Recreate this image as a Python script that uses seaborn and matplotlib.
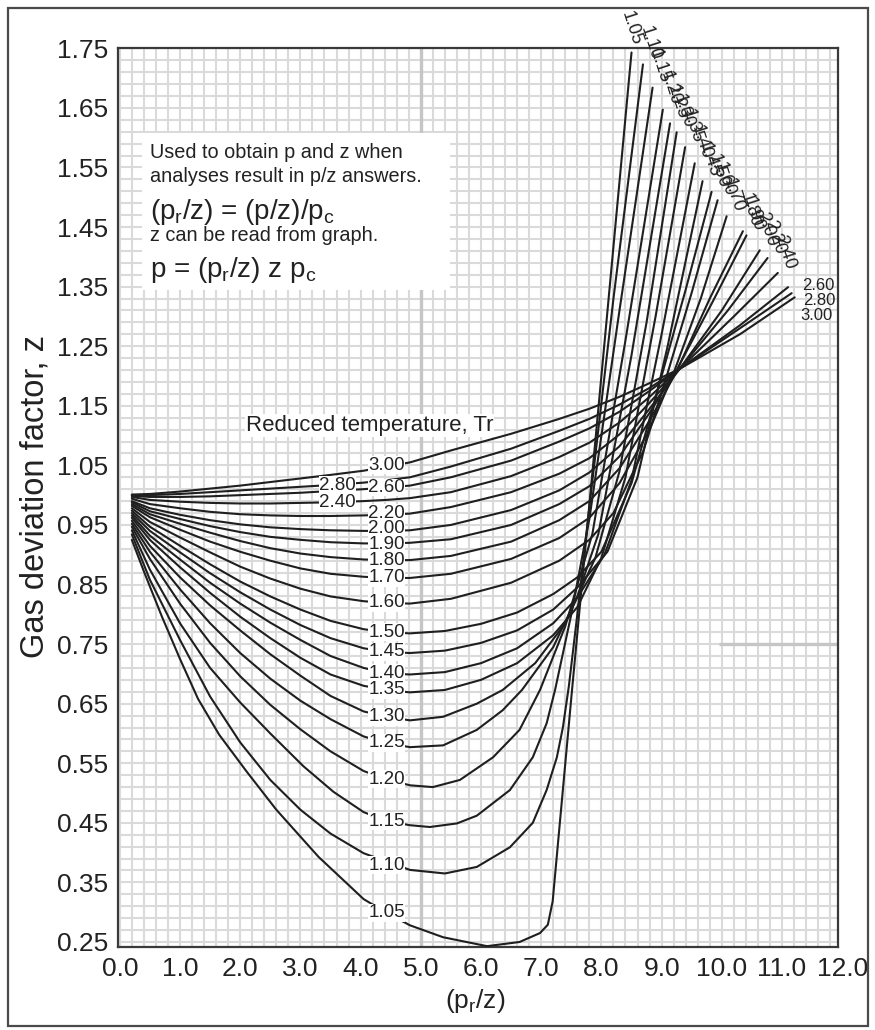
import numpy as np
import pandas as pd
import matplotlib
matplotlib.use("Agg")
import matplotlib.pyplot as plt
from matplotlib.patches import Rectangle
import seaborn as sns

# ---- reduced temperature curves: x = (pr/z), z = gas deviation factor ----
TR_105_X = [0.2, 0.4, 0.7, 1.0, 1.3, 1.65, 2.1, 2.6, 3.3, 4.05, 4.43, 4.82, 5.37, 6.1, 6.64, 6.98, 7.11, 7.19, 7.5, 8.0, 8.5]
TR_105_Z = [0.925, 0.872, 0.796, 0.725, 0.658, 0.598, 0.537, 0.472, 0.393, 0.322, 0.299, 0.278, 0.258, 0.243, 0.250, 0.265, 0.279, 0.318, 0.66, 1.20, 1.743]

TR_110_X = [0.2, 0.5, 1.0, 1.5, 2.0, 2.5, 3.0, 3.5, 4.05, 4.43, 4.82, 5.4, 5.93, 6.48, 6.86, 7.09, 7.26, 7.36, 7.46, 7.6, 7.8, 8.2, 8.69]
TR_110_Z = [0.934, 0.858, 0.757, 0.662, 0.585, 0.522, 0.472, 0.432, 0.399, 0.385, 0.371, 0.365, 0.376, 0.409, 0.450, 0.505, 0.560, 0.610, 0.680, 0.800, 0.980, 1.330, 1.723]

TR_115_X = [0.2, 0.5, 1.0, 1.5, 2.0, 2.5, 3.05, 3.55, 4.05, 4.43, 4.82, 5.15, 5.6, 5.93, 6.48, 6.86, 7.09, 7.23, 7.5, 7.8, 8.3, 8.85]
TR_115_Z = [0.941, 0.875, 0.785, 0.710, 0.652, 0.600, 0.545, 0.502, 0.468, 0.453, 0.446, 0.443, 0.449, 0.462, 0.505, 0.560, 0.617, 0.673, 0.800, 0.960, 1.310, 1.684]

TR_120_X = [0.2, 0.5, 1.0, 1.5, 2.0, 2.5, 3.0, 3.5, 4.05, 4.43, 4.82, 5.2, 5.65, 6.2, 6.64, 6.98, 7.4, 7.85, 8.4, 9.02]
TR_120_Z = [0.947, 0.893, 0.818, 0.752, 0.696, 0.648, 0.607, 0.570, 0.537, 0.523, 0.513, 0.510, 0.522, 0.560, 0.606, 0.673, 0.780, 0.935, 1.260, 1.647]

TR_125_X = [0.2, 0.5, 1.0, 1.5, 2.0, 2.5, 3.0, 3.5, 4.05, 4.43, 4.82, 5.37, 5.93, 6.36, 6.68, 7.2, 7.6, 7.95, 8.5, 9.14]
TR_125_Z = [0.952, 0.905, 0.842, 0.785, 0.735, 0.692, 0.655, 0.624, 0.595, 0.584, 0.577, 0.580, 0.606, 0.639, 0.673, 0.745, 0.830, 0.935, 1.235, 1.624]

TR_130_X = [0.2, 0.5, 1.0, 1.5, 2.0, 2.5, 3.0, 3.5, 4.05, 4.43, 4.82, 5.37, 5.93, 6.36, 6.9, 7.4, 7.9, 8.3, 8.75, 9.25]
TR_130_Z = [0.957, 0.915, 0.862, 0.815, 0.773, 0.733, 0.697, 0.663, 0.637, 0.628, 0.622, 0.628, 0.650, 0.673, 0.718, 0.785, 0.895, 1.040, 1.290, 1.609]

TR_135_X = [0.2, 0.5, 1.0, 1.5, 2.0, 2.5, 3.0, 3.5, 4.05, 4.43, 4.82, 5.4, 6.0, 6.6, 7.2, 7.6, 8.0, 8.4, 8.9, 9.39]
TR_135_Z = [0.962, 0.925, 0.879, 0.836, 0.796, 0.760, 0.727, 0.699, 0.680, 0.673, 0.669, 0.673, 0.690, 0.718, 0.765, 0.812, 0.895, 1.030, 1.300, 1.584]

TR_140_X = [0.2, 0.5, 1.0, 1.5, 2.0, 2.5, 3.0, 3.5, 4.05, 4.43, 4.82, 5.4, 6.0, 6.6, 7.2, 7.6, 8.05, 8.5, 9.0, 9.55]
TR_140_Z = [0.966, 0.932, 0.892, 0.853, 0.818, 0.786, 0.757, 0.730, 0.710, 0.701, 0.699, 0.703, 0.718, 0.743, 0.785, 0.828, 0.900, 1.025, 1.270, 1.557]

TR_145_X = [0.2, 0.5, 1.0, 1.5, 2.0, 2.5, 3.0, 3.5, 4.05, 4.43, 4.82, 5.4, 6.0, 6.6, 7.2, 7.6, 8.1, 8.6, 9.1, 9.68]
TR_145_Z = [0.970, 0.940, 0.904, 0.869, 0.837, 0.808, 0.782, 0.760, 0.743, 0.737, 0.735, 0.739, 0.752, 0.773, 0.808, 0.845, 0.905, 1.030, 1.250, 1.527]

TR_150_X = [0.2, 0.5, 1.0, 1.5, 2.0, 2.5, 3.0, 3.5, 4.05, 4.43, 4.82, 5.4, 6.0, 6.6, 7.2, 7.6, 8.0, 8.5, 9.0, 9.4, 9.83]
TR_150_Z = [0.974, 0.947, 0.915, 0.884, 0.855, 0.830, 0.808, 0.789, 0.775, 0.770, 0.768, 0.772, 0.784, 0.803, 0.834, 0.862, 0.905, 1.020, 1.200, 1.345, 1.509]

TR_160_X = [0.2, 0.5, 1.0, 1.5, 2.0, 2.5, 3.0, 3.5, 4.05, 4.43, 4.82, 5.5, 6.5, 7.3, 7.8, 8.2, 8.7, 9.1, 9.5, 9.93]
TR_160_Z = [0.978, 0.955, 0.929, 0.904, 0.880, 0.860, 0.843, 0.830, 0.822, 0.819, 0.818, 0.826, 0.853, 0.890, 0.925, 0.970, 1.075, 1.205, 1.340, 1.495]

TR_170_X = [0.2, 0.5, 1.0, 1.5, 2.0, 2.5, 3.0, 3.5, 4.05, 4.43, 4.82, 5.5, 6.5, 7.3, 7.8, 8.3, 8.8, 9.2, 9.65, 10.08]
TR_170_Z = [0.982, 0.963, 0.942, 0.922, 0.905, 0.890, 0.877, 0.868, 0.863, 0.861, 0.861, 0.868, 0.893, 0.928, 0.962, 1.020, 1.110, 1.205, 1.330, 1.468]

TR_180_X = [0.2, 0.5, 1.0, 1.5, 2.0, 2.5, 3.0, 3.5, 4.05, 4.43, 4.82, 5.5, 6.5, 7.3, 7.8, 8.3, 8.8, 9.25, 9.8, 10.35]
TR_180_Z = [0.985, 0.968, 0.952, 0.937, 0.923, 0.911, 0.902, 0.896, 0.892, 0.891, 0.891, 0.898, 0.922, 0.958, 0.990, 1.045, 1.125, 1.208, 1.330, 1.443]

TR_190_X = [0.2, 0.5, 1.0, 1.5, 2.0, 2.5, 3.0, 3.5, 4.05, 4.43, 4.82, 5.5, 6.5, 7.3, 7.8, 8.3, 8.8, 9.25, 9.85, 10.41]
TR_190_Z = [0.988, 0.973, 0.960, 0.948, 0.938, 0.930, 0.925, 0.921, 0.919, 0.919, 0.920, 0.926, 0.950, 0.985, 1.015, 1.065, 1.138, 1.210, 1.325, 1.436]

TR_200_X = [0.2, 0.5, 1.0, 1.5, 2.0, 2.5, 3.0, 3.5, 4.05, 4.43, 4.82, 5.5, 6.5, 7.3, 7.8, 8.3, 8.8, 9.3, 10.0, 10.63]
TR_200_Z = [0.990, 0.978, 0.967, 0.958, 0.951, 0.946, 0.943, 0.941, 0.940, 0.940, 0.941, 0.950, 0.975, 1.008, 1.038, 1.082, 1.145, 1.212, 1.310, 1.411]

TR_220_X = [0.2, 0.5, 1.0, 1.5, 2.0, 2.5, 3.0, 3.5, 4.05, 4.43, 4.82, 5.5, 6.5, 7.3, 7.8, 8.3, 8.8, 9.3, 10.1, 10.76]
TR_220_Z = [0.994, 0.985, 0.978, 0.972, 0.968, 0.966, 0.965, 0.965, 0.966, 0.967, 0.969, 0.980, 1.005, 1.036, 1.062, 1.102, 1.155, 1.212, 1.310, 1.398]

TR_240_X = [0.2, 0.5, 1.0, 1.5, 2.0, 2.5, 3.0, 3.5, 4.05, 4.43, 4.82, 5.5, 6.5, 7.3, 7.8, 8.3, 8.8, 9.3, 10.2, 10.93]
TR_240_Z = [0.997, 0.992, 0.989, 0.987, 0.986, 0.986, 0.987, 0.988, 0.990, 0.992, 0.995, 1.005, 1.032, 1.064, 1.088, 1.122, 1.165, 1.212, 1.300, 1.373]

TR_260_X = [0.2, 0.5, 1.0, 1.5, 2.0, 2.5, 3.0, 3.5, 4.05, 4.43, 4.82, 5.5, 6.5, 7.3, 7.8, 8.3, 8.8, 9.3, 10.3, 11.1]
TR_260_Z = [0.999, 0.997, 0.997, 0.998, 1.000, 1.002, 1.004, 1.007, 1.010, 1.013, 1.016, 1.030, 1.058, 1.090, 1.112, 1.140, 1.175, 1.212, 1.285, 1.349]

TR_280_X = [0.2, 0.5, 1.0, 1.5, 2.0, 2.5, 3.0, 3.5, 4.05, 4.43, 4.82, 5.5, 6.5, 7.3, 7.8, 8.3, 8.8, 9.3, 10.3, 11.16]
TR_280_Z = [1.000, 1.000, 1.002, 1.005, 1.008, 1.011, 1.014, 1.017, 1.021, 1.025, 1.030, 1.048, 1.078, 1.108, 1.128, 1.152, 1.180, 1.212, 1.280, 1.339]

TR_300_X = [0.2, 0.5, 1.0, 1.5, 2.0, 2.5, 3.0, 3.5, 4.05, 4.43, 4.82, 5.5, 6.5, 7.3, 7.8, 8.3, 8.8, 9.3, 10.3, 11.21]
TR_300_Z = [1.001, 1.002, 1.006, 1.011, 1.016, 1.022, 1.028, 1.034, 1.041, 1.048, 1.055, 1.075, 1.103, 1.128, 1.145, 1.165, 1.188, 1.212, 1.270, 1.332]

CURVES = [
    ("1.05", TR_105_X, TR_105_Z), ("1.10", TR_110_X, TR_110_Z),
    ("1.15", TR_115_X, TR_115_Z), ("1.20", TR_120_X, TR_120_Z),
    ("1.25", TR_125_X, TR_125_Z), ("1.30", TR_130_X, TR_130_Z),
    ("1.35", TR_135_X, TR_135_Z), ("1.40", TR_140_X, TR_140_Z),
    ("1.45", TR_145_X, TR_145_Z), ("1.50", TR_150_X, TR_150_Z),
    ("1.60", TR_160_X, TR_160_Z), ("1.70", TR_170_X, TR_170_Z),
    ("1.80", TR_180_X, TR_180_Z), ("1.90", TR_190_X, TR_190_Z),
    ("2.00", TR_200_X, TR_200_Z), ("2.20", TR_220_X, TR_220_Z),
    ("2.40", TR_240_X, TR_240_Z), ("2.60", TR_260_X, TR_260_Z),
    ("2.80", TR_280_X, TR_280_Z), ("3.00", TR_300_X, TR_300_Z),
]

# in-line labels of the middle column: (text, x, z)
MID_LABELS = [
    ("3.00", 4.43, 1.050), ("2.80", 3.62, 1.017), ("2.60", 4.43, 1.013),
    ("2.40", 3.62, 0.987), ("2.20", 4.43, 0.970), ("2.00", 4.43, 0.944),
    ("1.90", 4.43, 0.918), ("1.80", 4.43, 0.891), ("1.70", 4.43, 0.861),
    ("1.60", 4.43, 0.819), ("1.50", 4.43, 0.770), ("1.45", 4.43, 0.737),
    ("1.40", 4.43, 0.701), ("1.35", 4.43, 0.673), ("1.30", 4.43, 0.628),
    ("1.25", 4.43, 0.584), ("1.20", 4.43, 0.523), ("1.15", 4.43, 0.453),
    ("1.10", 4.43, 0.379), ("1.05", 4.43, 0.299),
]

X_TICKS = [0, 1, 2, 3, 4, 5, 6, 7, 8, 9, 10, 11, 12]
X_TICK_LABELS = ["0.0", "1.0", "2.0", "3.0", "4.0", "5.0", "6.0", "7.0", "8.0", "9.0", "10.0", "11.0", "12.0"]
Y_TICKS = [0.25, 0.35, 0.45, 0.55, 0.65, 0.75, 0.85, 0.95, 1.05, 1.15, 1.25, 1.35, 1.45, 1.55, 1.65, 1.75]
Y_TICK_LABELS = ["0.25", "0.35", "0.45", "0.55", "0.65", "0.75", "0.85", "0.95", "1.05", "1.15", "1.25", "1.35", "1.45", "1.55", "1.65", "1.75"]

NOTE_LINES = [
    ("Used to obtain p and z when", 1.575, 14.3),
    ("analyses result in p/z answers.", 1.534, 14.3),
    ("(p$_r$/z) = (p/z)/p$_c$", 1.475, 20),
    ("z can be read from graph.", 1.436, 14.3),
    ("p = (p$_r$/z) z p$_c$", 1.378, 20),
]

# ---- style ----
sns.set_style("white")
plt.rcParams["font.family"] = ["Liberation Sans", "DejaVu Sans"]
plt.rcParams["mathtext.default"] = "regular"

W, H = 875, 1030
fig = plt.figure(figsize=(W / 100, H / 100), dpi=100)
ax = fig.add_axes([118 / W, 1 - 947 / H, (838 - 118) / W, (947 - 48) / H])

INK = "#1f1f1f"
GRID = "#dadada"

rows = []
for lab, xs, zs in CURVES:
    for x, z in zip(xs, zs):
        rows.append((lab, x, z))
df = pd.DataFrame(rows, columns=["Tr", "prz", "z"])

sns.lineplot(data=df, x="prz", y="z", units="Tr", estimator=None, sort=True,
             color=INK, lw=1.5, ax=ax, legend=False, zorder=3)

ax.set_xlim(-0.03, 11.93)
ax.set_ylim(0.2416, 1.7505)

# fine graph-paper grid
ax.set_xticks(X_TICKS[:-1])
ax.set_xticklabels(X_TICK_LABELS[:-1])
ax.set_yticks(Y_TICKS)
ax.set_yticklabels(Y_TICK_LABELS)
ax.set_xticks(np.arange(0, 11.93, 0.2), minor=True)
ax.set_yticks(np.arange(0.25, 1.751, 0.02), minor=True)
ax.set_axisbelow(True)
ax.grid(which="both", color=GRID, lw=1.5)
ax.axvline(5.0, color="#c6c6c6", lw=2.4, zorder=0.6)
ax.hlines(0.75, 9.95, 11.93, color="#c6c6c6", lw=2.4, zorder=0.6)
ax.tick_params(which="both", length=0, labelsize=19, colors="#222222", pad=7)
ax.annotate(X_TICK_LABELS[-1], xy=(X_TICKS[-1], 0), xycoords=("data", "axes fraction"),
            xytext=(0, -7), textcoords="offset points", ha="center", va="top",
            fontsize=19, color="#222222", annotation_clip=False)
ax.set_xlabel("")
ax.set_ylabel("")
for s in ax.spines.values():
    s.set_color("#3a3a3a")
    s.set_linewidth(1.6)

# note box
ax.add_patch(Rectangle((0.37, 1.344), 5.11, 0.263, facecolor="white", edgecolor="none", zorder=2))
for txt, zc, fs in NOTE_LINES:
    ax.text(0.5, zc, txt, fontsize=fs, color="#222222", ha="left", va="center", zorder=4)

ax.text(4.15, 1.117, "Reduced temperature, Tr", fontsize=16, color="#222222",
        ha="center", va="center", zorder=4,
        bbox=dict(facecolor="white", edgecolor="none", pad=0.5))

# middle-column curve labels
for txt, x, z in MID_LABELS:
    ax.text(x, z, txt, fontsize=13.5, color="#222222", ha="center", va="center", zorder=5,
            bbox=dict(facecolor="white", edgecolor="none", pad=0.3))

# labels at the upper ends of the curves
for lab, xs, zs in CURVES:
    if lab in ("2.60", "2.80", "3.00"):
        off = {"2.60": (14, 2), "2.80": (11, -7), "3.00": (6, -18)}[lab]
        ax.annotate(lab, xy=(xs[-1], zs[-1]), xytext=off, textcoords="offset pixels",
                    ha="left", va="center", fontsize=12, color="#222222",
                    annotation_clip=False, zorder=5)
    else:
        off = (0, 24) if lab == "1.05" else (7, 21)
        ax.annotate(lab, xy=(xs[-1], zs[-1]), xytext=off, textcoords="offset pixels",
                    ha="center", va="center", rotation=-72, rotation_mode="anchor",
                    fontsize=13, color="#222222", annotation_clip=False, zorder=5)

fig.text(475 / W, 1 - 1001 / H, "(p$_r$/z)", fontsize=19, color="#222222", ha="center", va="center")
fig.text(35 / W, 1 - 497 / H, "Gas deviation factor, z", fontsize=23.5, color="#222222",
         ha="center", va="center", rotation=90)

# outer frame
fig.patches.append(Rectangle((8 / W, 4 / H), (868 - 8) / W, (1022 - 4) / H, transform=fig.transFigure,
                             fill=False, edgecolor="#4a4a4a", lw=1.6))

fig.savefig("out.png", dpi=100)
